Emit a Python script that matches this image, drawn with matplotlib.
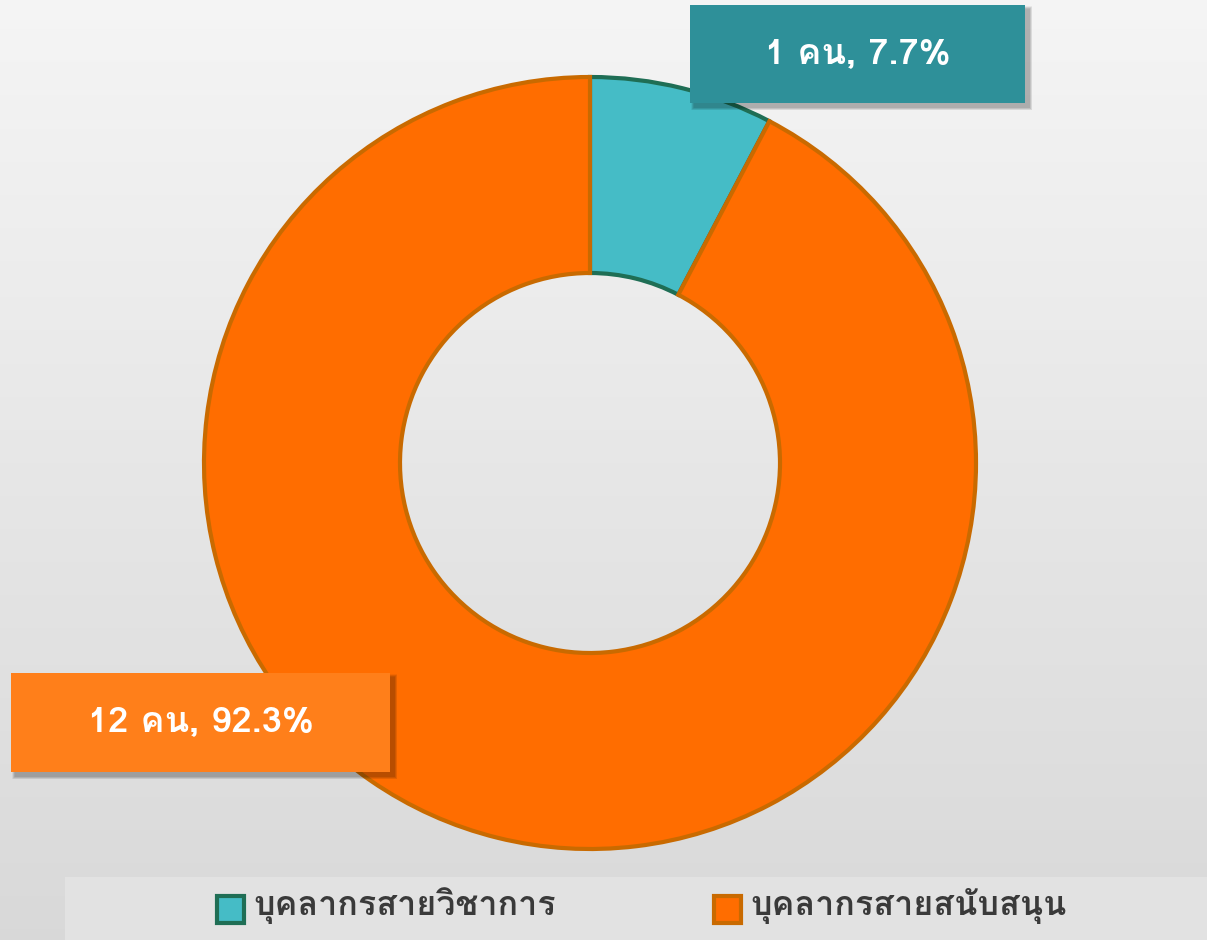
import numpy as np
import matplotlib
matplotlib.use("Agg")
import matplotlib.pyplot as plt
from matplotlib import font_manager, ft2font
from matplotlib.patches import Rectangle

# Staff breakdown
categories = ["บุคลากรสายวิชาการ", "บุคลากรสายสนับสนุน"]
counts = [1, 12]
unit = "คน"

fill_colors = ["#45BCC6", "#FF6D00"]
edge_colors = ["#1F6E55", "#C96A00"]
box_colors = ["#2E9099", "#FF7F1A"]


def thai_family():
    preferred = ["Noto Sans Thai", "Noto Sans Thai Looped", "Loma", "Garuda",
                 "Tlwg Typo", "Kinnari", "Norasi", "Sarabun", "Tahoma"]
    fonts = font_manager.fontManager.ttflist
    ordered = sorted(fonts, key=lambda f: (f.name not in preferred, f.name))
    for f in ordered:
        try:
            if 0x0E04 in ft2font.FT2Font(f.fname).get_charmap():
                return f.name
        except Exception:
            continue
    return None


tf = thai_family()
families = ([tf] if tf else []) + ["DejaVu Sans"]
plt.rcParams["font.family"] = families

W, H = 1207, 940
fig = plt.figure(figsize=(W / 100, H / 100), dpi=100)

# Background gradient
bg = fig.add_axes([0, 0, 1, 1])
bg.set_axis_off()
grad = np.linspace(0, 1, 256)[:, None]
top = np.array([0.96, 0.96, 0.96])
bot = np.array([0.85, 0.85, 0.85])
img = top[None, None, :] * (1 - grad[..., None]) + bot[None, None, :] * grad[..., None]
img = np.repeat(img, 2, axis=1)
bg.imshow(img, aspect="auto", extent=[0, 1, 0, 1], origin="upper")
bg.set_xlim(0, 1)
bg.set_ylim(0, 1)

ax = fig.add_axes([0, 0, 1, 1])
ax.set_xlim(0, W)
ax.set_ylim(0, H)
ax.set_axis_off()
ax.patch.set_alpha(0)

cx, cy = 590, H - 463
r_out, ring = 386, 196

wedges, _ = ax.pie(counts, colors=fill_colors, startangle=90, counterclock=False,
                   center=(cx, cy), radius=r_out, frame=True,
                   wedgeprops=dict(width=ring, linewidth=3))
for w, ec in zip(wedges, edge_colors):
    w.set_edgecolor(ec)
    w.set_linewidth(3)
ax.set_xlim(0, W)
ax.set_ylim(0, H)
ax.set_aspect("equal")
ax.set_axis_off()

total = sum(counts)
labels = [f"{c} {unit}, {c / total * 100:.1f}%" for c in counts]

# Data label boxes (x0, y0 from top, width, height) with soft drop shadows
boxes = [(690, 5, 335, 98), (11, 673, 379, 99)]
for (x0, y0, bw, bh), lab, bc in zip(boxes, labels, box_colors):
    yb = H - y0 - bh
    for k in range(6):
        grow = 6 - k
        ax.add_patch(Rectangle((x0 + 4 - grow * 0.5, yb - 4 - grow * 0.5),
                               bw + grow, bh + grow, facecolor="black",
                               edgecolor="none", alpha=0.05, zorder=4))
    ax.add_patch(Rectangle((x0, yb), bw, bh, facecolor=bc, edgecolor="none", zorder=5))
    ax.text(x0 + bw / 2, yb + bh / 2, lab, color="white", fontsize=26,
            fontweight="bold", ha="center", va="center", zorder=6)

# Legend band
ax.add_patch(Rectangle((65, 0), W - 65, 63, facecolor="#E2E2E2", edgecolor="none", zorder=3))
legend_items = [(230, categories[0], 0), (727, categories[1], 1)]
for x, name, i in legend_items:
    ax.add_patch(Rectangle((x - 13, H - 923), 27, 27, facecolor=fill_colors[i],
                           edgecolor=edge_colors[i], linewidth=3, zorder=4))
    ax.text(x + 23, H - 906, name, color="#3A3A3A", fontsize=24.5,
            fontweight="bold", ha="left", va="center", zorder=4)

fig.savefig("out.png", dpi=100)
